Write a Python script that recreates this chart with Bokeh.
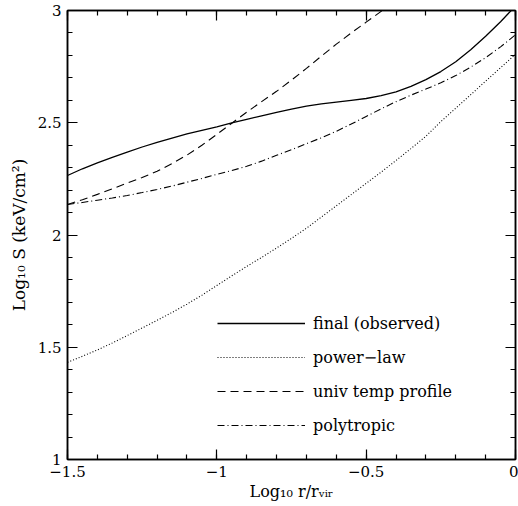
from bokeh.plotting import figure
from bokeh.models import (Range1d, LinearAxis, SingleIntervalTicker,
                          CustomJSTickFormatter, Legend, LegendItem)
from bokeh.embed import file_html
from bokeh.resources import INLINE

# ---- data ----
log_r = [-1.5, -1.45, -1.4, -1.35, -1.3, -1.25, -1.2, -1.15, -1.1, -1.05,
         -1.0, -0.95, -0.9, -0.85, -0.8, -0.75, -0.7, -0.65, -0.6, -0.55,
         -0.5, -0.45, -0.4, -0.35, -0.3, -0.25, -0.2, -0.15, -0.1, -0.05, 0.0]
s_final = [2.265, 2.295, 2.321, 2.346, 2.369, 2.392, 2.413, 2.432, 2.450, 2.466,
           2.482, 2.499, 2.515, 2.531, 2.546, 2.561, 2.574, 2.584, 2.592, 2.600,
           2.608, 2.621, 2.638, 2.662, 2.692, 2.728, 2.772, 2.825, 2.885, 2.950, 3.020]
s_powerlaw = [1.433, 1.460, 1.488, 1.519, 1.552, 1.586, 1.620, 1.655, 1.692, 1.732,
              1.775, 1.818, 1.860, 1.900, 1.942, 1.985, 2.030, 2.080, 2.130, 2.180,
              2.230, 2.280, 2.332, 2.385, 2.440, 2.505, 2.565, 2.625, 2.685, 2.745, 2.805]
log_r_univ = [-1.5, -1.45, -1.4, -1.35, -1.3, -1.25, -1.2, -1.15, -1.1, -1.05,
              -1.0, -0.95, -0.9, -0.85, -0.8, -0.75, -0.7, -0.65, -0.6, -0.55,
              -0.5, -0.45, -0.4]
s_univ = [2.136, 2.157, 2.181, 2.206, 2.231, 2.256, 2.284, 2.318, 2.356, 2.400,
          2.448, 2.498, 2.547, 2.594, 2.640, 2.690, 2.742, 2.797, 2.850, 2.900,
          2.948, 2.996, 3.044]
s_poly = [2.136, 2.145, 2.155, 2.165, 2.176, 2.189, 2.203, 2.218, 2.235, 2.252,
          2.270, 2.287, 2.306, 2.329, 2.355, 2.380, 2.407, 2.433, 2.462, 2.494,
          2.528, 2.562, 2.594, 2.623, 2.650, 2.678, 2.710, 2.748, 2.790, 2.838, 2.892]

labels = ["final (observed)", "power\u2212law", "univ temp profile", "polytropic"]

FONT = "DejaVu Serif"

p = figure(width=518, height=506, output_backend="svg", toolbar_location=None,
           x_range=Range1d(-1.5, 0), y_range=Range1d(1, 3),
           min_border_left=67, min_border_right=3, min_border_top=10,
           min_border_bottom=47, x_axis_location=None, y_axis_location=None)
p.grid.visible = False
p.outline_line_color = "black"
p.outline_line_width = 1.5
p.background_fill_color = "white"
p.border_fill_color = "white"

fmt = CustomJSTickFormatter(code="return tick.toString().replace('-', '\u2212');")
empty = CustomJSTickFormatter(code="return '';")

def make_axis(labelled, label=None, label_size="15px", label_standoff=6):
    ax = LinearAxis(ticker=SingleIntervalTicker(interval=0.5, num_minor_ticks=5))
    ax.major_tick_in = 10
    ax.major_tick_out = 0
    ax.minor_tick_in = 5
    ax.minor_tick_out = 0
    ax.axis_line_color = "black"
    ax.axis_line_width = 1.5
    ax.major_tick_line_width = 1.2
    ax.minor_tick_line_width = 1.2
    if labelled:
        ax.formatter = fmt
        ax.major_label_text_font = FONT
        ax.major_label_text_font_size = "15px"
        ax.major_label_text_color = "black"
        ax.major_label_standoff = 6
        ax.axis_label = label
        ax.axis_label_text_font = FONT
        ax.axis_label_text_font_size = label_size
        ax.axis_label_text_font_style = "normal"
        ax.axis_label_text_color = "black"
        ax.axis_label_standoff = label_standoff
    else:
        ax.formatter = empty
        ax.major_label_text_font_size = "0px"
        ax.major_label_standoff = 0
    return ax

p.add_layout(make_axis(True, "Log\u2081\u2080 r/r\u1d65\u1d62\u1d63", "16px", 2), "below")
p.add_layout(make_axis(True, "Log\u2081\u2080 S (keV/cm\u00b2)", "17px", 6), "left")
p.add_layout(make_axis(False), "above")
p.add_layout(make_axis(False), "right")

r1 = p.line(log_r, s_final, line_color="black", line_width=1.3)
r2 = p.line(log_r, s_powerlaw, line_color="black", line_width=1.1, line_dash="1 2")
r3 = p.line(log_r_univ, s_univ, line_color="black", line_width=1.1, line_dash="8 5")
r4 = p.line(log_r, s_poly, line_color="black", line_width=1.1, line_dash="7 3 1 3")

legend = Legend(items=[LegendItem(label=l, renderers=[r]) for l, r in zip(labels, [r1, r2, r3, r4])],
                location=(150, 24), orientation="vertical",
                glyph_width=88, glyph_height=20, label_height=20, spacing=14,
                label_standoff=8, padding=0, margin=0,
                border_line_alpha=0, background_fill_alpha=0,
                label_text_font=FONT, label_text_font_size="16px",
                label_text_baseline="alphabetic",
                label_text_color="black")
p.add_layout(legend)

open("out.html", "w").write(file_html(p, INLINE))
